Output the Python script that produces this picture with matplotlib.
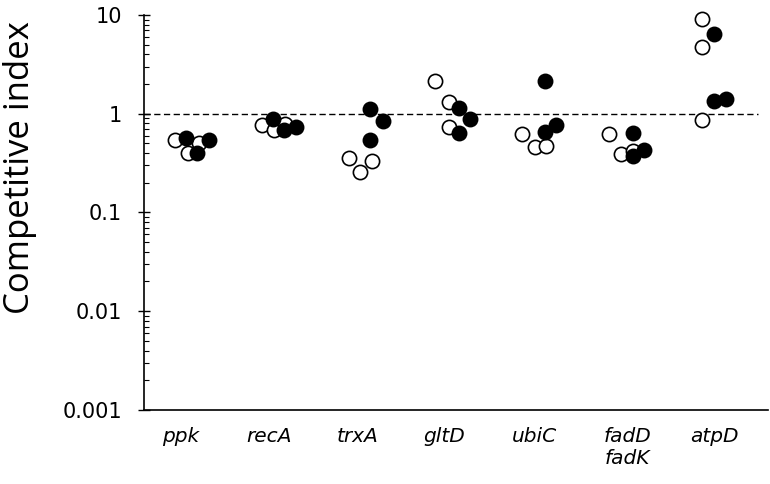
import matplotlib.pyplot as plt
from matplotlib.ticker import LogLocator, NullFormatter, FixedLocator, FixedFormatter

# Data (competitive index per strain)
genes = ["ppk", "recA", "trxA", "gltD", "ubiC", "fadD\nfadK", "atpD"]
open_vals = [
    [0.545, 0.40, 0.50],
    [0.77, 0.68, 0.78],
    [0.36, 0.255, 0.33],
    [2.17, 1.33, 0.73],
    [0.62, 0.46, 0.47],
    [0.63, 0.39, 0.42],
    [9.2, 4.7, 0.855],
]
filled_vals = [
    [0.57, 0.40, 0.545],
    [0.875, 0.68, 0.74],
    [1.12, 0.54, 0.84],
    [1.15, 0.89, 0.64],
    [2.17, 0.65, 0.77],
    [0.64, 0.37, 0.425],
    [6.45, 1.36, 1.42],
]

# horizontal scatter of the points within each group (in group units)
open_jit = [
    [-0.20, -0.05, 0.08],
    [-0.20, -0.06, 0.07],
    [-0.20, -0.07, 0.07],
    [-0.20, -0.05, -0.05],
    [-0.20, -0.06, 0.07],
    [-0.20, -0.07, 0.07],
    [-0.14, -0.14, -0.14],
]
filled_jit = [
    [-0.07, 0.06, 0.19],
    [-0.07, 0.06, 0.20],
    [0.05, 0.05, 0.20],
    [0.07, 0.20, 0.07],
    [0.06, 0.06, 0.19],
    [0.07, 0.07, 0.20],
    [0.0, 0.0, 0.14],
]
label_pos = [-0.13, 0.89, 1.91, 2.90, 3.94, 5.01, 6.01]

fig = plt.figure(figsize=(7.7, 4.84), dpi=100)
ax = fig.add_axes([0.187, 0.153, 0.810, 0.816])

ax.axhline(1, xmin=0, xmax=0.985, color="black", lw=1.0, dashes=(4.5, 2.5), zorder=1)

for i in range(len(genes)):
    xo = [i + d for d in open_jit[i]]
    xf = [i + d for d in filled_jit[i]]
    ax.scatter(xo, open_vals[i], s=105, facecolor="white", edgecolor="black",
               linewidth=1.2, zorder=2, clip_on=False)
    ax.scatter(xf, filled_vals[i], s=105, facecolor="black", edgecolor="black",
               linewidth=1.2, zorder=3, clip_on=False)

ax.set_yscale("log")
ax.set_ylim(0.001, 10)
ax.set_xlim(-0.552, 6.62)

ax.yaxis.set_major_locator(FixedLocator([0.001, 0.01, 0.1, 1, 10]))
ax.yaxis.set_major_formatter(FixedFormatter(["0.001", "0.01", "0.1", "1", "10"]))
ax.yaxis.set_minor_locator(LogLocator(base=10, subs=range(2, 10)))
ax.yaxis.set_minor_formatter(NullFormatter())
ax.tick_params(axis="y", which="major", direction="inout", length=8, width=1,
               labelsize=15, pad=12)
ax.tick_params(axis="y", which="minor", direction="in", length=3.5, width=0.8)
for t in ax.get_yticklabels():
    t.set_family("DejaVu Sans")

ax.set_xticks(label_pos)
ax.set_xticklabels(genes, fontstyle="italic", fontsize=14.5, family="DejaVu Sans",
                   va="top", linespacing=1.2)
ax.tick_params(axis="x", length=0, pad=12)

ax.set_ylabel("Competitive index", fontsize=25, family="Open Sans")
ax.yaxis.set_label_coords(-0.172, 0.615)

ax.spines["top"].set_visible(False)
ax.spines["right"].set_visible(False)
ax.spines["left"].set_linewidth(1.2)
ax.spines["bottom"].set_linewidth(1.2)

fig.savefig("out.png", dpi=100)
